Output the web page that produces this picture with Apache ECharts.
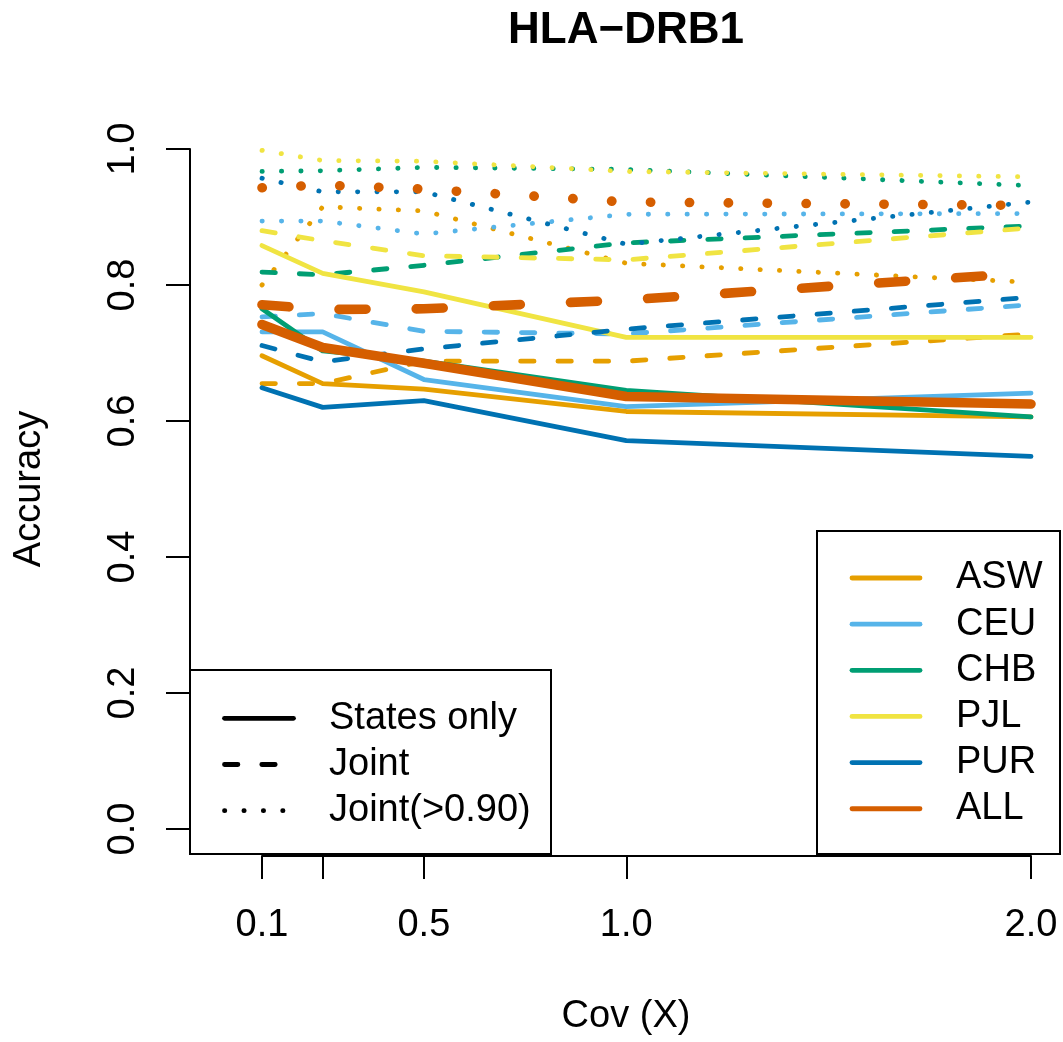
<!DOCTYPE html>
<html>
<head>
<meta charset="utf-8">
<title>HLA-DRB1 accuracy</title>
<script src="https://cdn.jsdelivr.net/npm/echarts@6/dist/echarts.min.js"></script>
<style>
  html, body { margin: 0; padding: 0; background: #fff; }
  #chart { width: 1063px; height: 1042px; }
</style>
</head>
<body>
<div id="chart"></div>
<script>
// Coverage levels on the x axis
const covX = [0.1, 0.25, 0.5, 1.0, 2.0];
const xTickValues = [0.1, 0.25, 0.5, 1.0, 2.0];
const xLabelValues = [0.1, 0.5, 1.0, 2.0];

// Accuracy, "States only"
const ASW_states = [0.696, 0.655, 0.647, 0.614, 0.606];
const CEU_states = [0.731, 0.731, 0.661, 0.621, 0.641];
const CHB_states = [0.765, 0.703, 0.688, 0.645, 0.606];
const PJL_states = [0.858, 0.817, 0.790, 0.723, 0.723];
const PUR_states = [0.649, 0.620, 0.630, 0.571, 0.548];
const ALL_states = [0.742, 0.708, 0.685, 0.636, 0.625];

// Accuracy, "Joint"
const ASW_joint = [0.655, 0.655, 0.688, 0.688, 0.728];
const CEU_joint = [0.753, 0.758, 0.732, 0.728, 0.771];
const CHB_joint = [0.819, 0.815, 0.829, 0.862, 0.887];
const PJL_joint = [0.880, 0.865, 0.843, 0.837, 0.884];
const PUR_joint = [0.711, 0.687, 0.706, 0.735, 0.782];
const ALL_joint = [0.771, 0.764, 0.765, 0.778, 0.818];

// Accuracy, "Joint(>0.90)"
const ASW_joint90 = [0.800, 0.915, 0.909, 0.832, 0.804];
const CEU_joint90 = [0.894, 0.894, 0.875, 0.904, 0.905];
const CHB_joint90 = [0.967, 0.968, 0.973, 0.970, 0.946];
const PJL_joint90 = [0.998, 0.983, 0.982, 0.967, 0.959];
const PUR_joint90 = [0.957, 0.937, 0.937, 0.860, 0.922];
const ALL_joint90 = [0.943, 0.947, 0.941, 0.922, 0.917];

const populations = ['ASW', 'CEU', 'CHB', 'PJL', 'PUR', 'ALL'];
const popColors = ['#E69F00', '#56B4E9', '#009E73', '#F0E442', '#0072B2', '#D55E00'];
const lineKinds = ['States only', 'Joint', 'Joint(>0.90)'];

const groups = [
  [ASW_states, ASW_joint, ASW_joint90],
  [CEU_states, CEU_joint, CEU_joint90],
  [CHB_states, CHB_joint, CHB_joint90],
  [PJL_states, PJL_joint, PJL_joint90],
  [PUR_states, PUR_joint, PUR_joint90],
  [ALL_states, ALL_joint, ALL_joint90]
];

const FONT = '"Liberation Sans", Arial, Helvetica, sans-serif';
const THIN = 4.8;
const THICK = 9.6;

function dashFor(kindIdx, w) {
  const thick = w > 6;
  if (kindIdx === 0) return 'solid';
  if (kindIdx === 1) return thick ? [27, 50.2] : [13.4, 23.9];
  return thick ? [0.3, 38.6] : [0.3, 19.1];
}

const series = [];
populations.forEach((pop, p) => {
  const w = pop === 'ALL' ? THICK : THIN;
  groups[p].forEach((vals, k) => {
    series.push({
      type: 'line',
      name: pop + ' ' + lineKinds[k],
      data: covX.map((x, i) => [x, vals[i]]),
      symbol: 'none',
      showSymbol: false,
      clip: false,
      silent: true,
      animation: false,
      lineStyle: { color: popColors[p], width: w, type: dashFor(k, w), cap: 'round', join: 'round' },
      emphasis: { disabled: true }
    });
  });
});

// legend pieces
const graphics = [];
function text(str, x, y, size, opts) {
  const o = Object.assign({ align: 'left', bold: false, rotation: 0 }, opts || {});
  graphics.push({
    type: 'text', x: x, y: y, rotation: o.rotation, silent: true, z: 100,
    style: {
      text: str, font: (o.bold ? 'bold ' : '') + size + 'px ' + FONT, fill: '#000',
      textAlign: o.align, align: o.align, textVerticalAlign: 'middle', verticalAlign: 'middle'
    }
  });
}
function seg(x1, x2, y, color, dash) {
  graphics.push({
    type: 'line', silent: true, z: 100,
    shape: { x1: x1, y1: y, x2: x2, y2: y },
    style: { stroke: color, lineWidth: THIN, lineDash: dash, lineCap: 'round' }
  });
}

text('HLA\u2212DRB1', 626, 31, 44, { align: 'center', bold: true });
text('Cov (X)', 626, 1017, 38, { align: 'center' });
text('Accuracy', 30, 489, 38, { align: 'center', rotation: Math.PI / 2 });

// line-type legend
graphics.push({ type: 'rect', silent: true, z: 90, shape: { x: 190, y: 670, width: 361, height: 184 },
  style: { fill: '#fff', stroke: '#000', lineWidth: 2 } });
const typeRows = [718.3, 764.5, 810.7];
const typeDash = [null, [13.4, 23.9], [0.3, 19.1]];
lineKinds.forEach((k, i) => {
  seg(224.5, 293.5, typeRows[i], '#000', typeDash[i]);
  text(k, 329, typeRows[i], 38);
});

// population legend
graphics.push({ type: 'rect', silent: true, z: 90, shape: { x: 817, y: 531, width: 243, height: 323 },
  style: { fill: '#fff', stroke: '#000', lineWidth: 2 } });
populations.forEach((pop, i) => {
  const y = 578 + i * 46.15;
  seg(852, 920, y, popColors[i], null);
  text(pop, 956, y, 38);
});

const chart = echarts.init(document.getElementById('chart'), null, { renderer: 'canvas' });
chart.setOption({
  animation: false,
  backgroundColor: '#fff',
  grid: { left: 262, right: 32, top: 149, bottom: 213, containLabel: false },
  xAxis: {
    type: 'value', min: 0.1, max: 2.0, offset: 27, position: 'bottom',
    axisLine: { show: true, onZero: false, lineStyle: { color: '#000', width: 2 } },
    axisTick: { show: true, length: 23, customValues: xTickValues, lineStyle: { color: '#000', width: 2 } },
    axisLabel: {
      customValues: xLabelValues, formatter: v => v.toFixed(1), margin: 70, verticalAlign: 'middle',
      color: '#000', fontSize: 38, fontFamily: FONT
    },
    splitLine: { show: false }
  },
  yAxis: {
    type: 'value', min: 0, max: 1, interval: 0.2, offset: 72,
    axisLine: { show: true, onZero: false, lineStyle: { color: '#000', width: 2 } },
    axisTick: { show: true, length: 24, lineStyle: { color: '#000', width: 2 } },
    axisLabel: { rotate: 90, margin: 47, formatter: v => v.toFixed(1), color: '#000', fontSize: 38, fontFamily: FONT },
    splitLine: { show: false }
  },
  series: series,
  graphic: graphics
});
</script>
</body>
</html>
